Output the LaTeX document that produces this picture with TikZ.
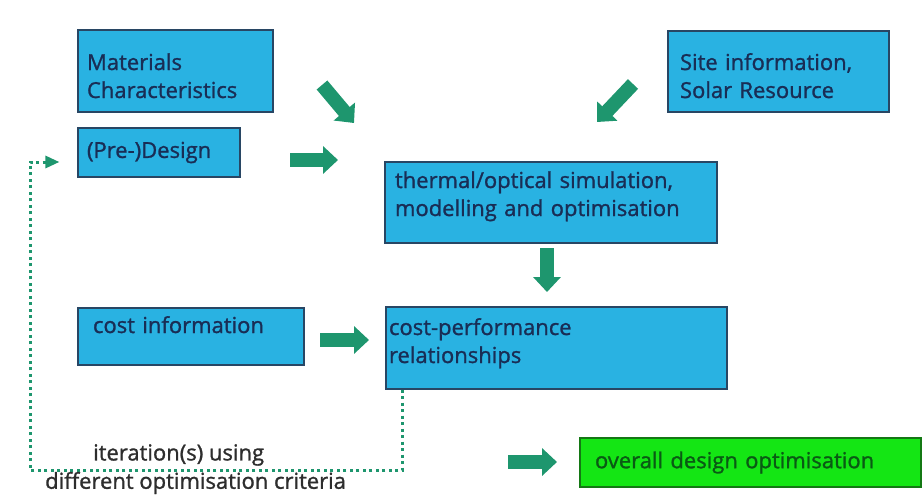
\documentclass[tikz,border=0pt]{standalone}
\usepackage{fontspec}
\setmainfont{Open Sans}
\newfontfamily\boxfont{Open Sans}[FakeBold=1.2]
\usetikzlibrary{arrows.meta}
\definecolor{boxblue}{RGB}{41,178,226}
\definecolor{boxline}{RGB}{40,70,100}
\definecolor{inktext}{RGB}{25,45,85}
\definecolor{flowgreen}{RGB}{30,150,110}
\definecolor{optgreen}{RGB}{20,230,20}
\definecolor{optline}{RGB}{20,120,20}
\definecolor{opttext}{RGB}{10,90,20}
\definecolor{notegray}{RGB}{45,45,45}

\begin{document}
\begin{tikzpicture}[x=1pt,y=-1pt,font=\boxfont\fontsize{22}{28}\selectfont,box/.style={draw=boxline,line width=1.2pt,fill=boxblue,text=inktext,align=left,inner xsep=9pt,inner ysep=0pt},flow/.style={-{Triangle[width=27pt,length=15pt]},line width=14pt,flowgreen},iter/.style={flowgreen,line width=3pt,dash pattern=on 3pt off 3.5pt,-{Triangle[width=12pt,length=14pt]}},note/.style={anchor=west,inner sep=0pt,text=notegray}]
\useasboundingbox (0,0) rectangle (922,498);
\node[box,text width=177pt,minimum height=82pt,text height=20pt,text depth=22pt] (mat) at (175.5,71) {Materials\\Characteristics};
\node[box,text width=144pt,minimum height=49pt] (pre) at (159,152.5) {(Pre-)Design};
\node[box,inner xsep=12pt,text width=197pt,minimum height=81pt,text height=20pt,text depth=23pt] (site) at (778.5,71.5) {Site information,\\Solar Resource};
\node[box,inner xsep=10pt,text width=312pt,minimum height=81pt,text height=16pt,text depth=45pt] (sim) at (551,202.5) {thermal/optical simulation,\\modelling and optimisation};
\node[box,inner xsep=15pt,text width=196pt,minimum height=57pt,text height=16pt,text depth=23pt] (cost) at (191,336.5) {cost information};
\node[box,inner xsep=3pt,text width=335pt,minimum height=82pt,text height=16pt,text depth=42pt] (perf) at (556.5,348) {cost-performance\\relationships};
\node[box,fill=optgreen,draw=optline,text=opttext,inner xsep=15pt,text width=311pt,minimum height=49pt] (opt) at (750.5,462.5) {overall design optimisation};
% block arrows between the boxes
\coordinate (m1) at (322,85); \coordinate (m2) at (354,123);
\coordinate (p1) at (290,160); \coordinate (p2) at (338,160);
\coordinate (s1) at (633,84); \coordinate (s2) at (597,122);
\coordinate (d1) at (547,248); \coordinate (d2) at (547,292);
\coordinate (c1) at (320,340); \coordinate (c2) at (369,340);
\coordinate (o1) at (508,462); \coordinate (o2) at (557,462);
\draw[flow] (m1) -- (m2);
\draw[flow] (p1) -- (p2);
\draw[flow] (s1) -- (s2);
\draw[flow] (d1) -- (d2);
\draw[flow] (c1) -- (c2);
\draw[flow] (o1) -- (o2);
% iteration loop
\coordinate (corner) at (30,470);
\draw[iter] ([xshift=17pt]perf.south west) |- (corner) |- ([shift={(-18,9.5)}]pre.west);
\node[note] (iter1) at (93,455) {iteration(s) using};
\node[note] (iter2) at (45,483) {different optimisation criteria};
\end{tikzpicture}
\end{document}
